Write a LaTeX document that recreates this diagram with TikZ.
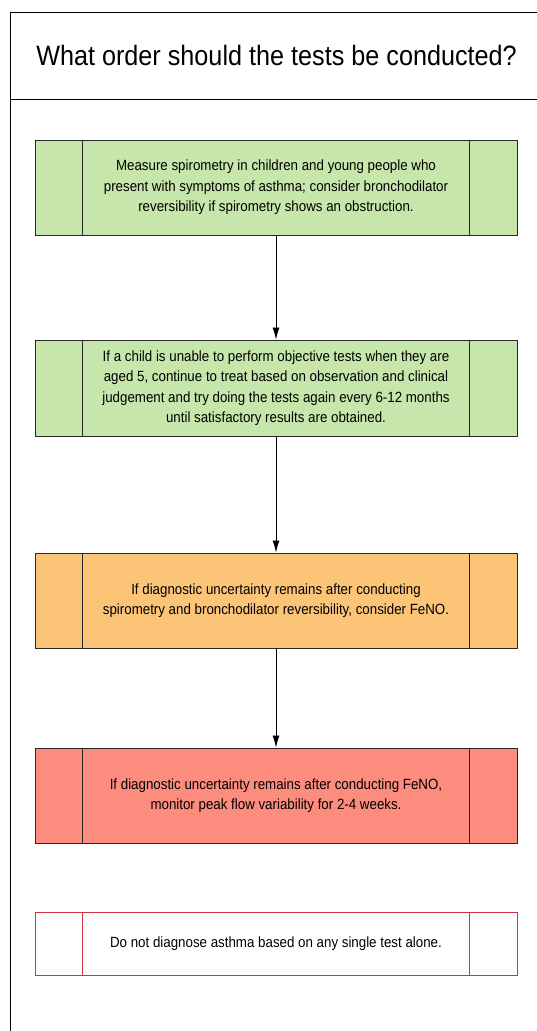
\documentclass[tikz,border=0pt]{standalone}
\usepackage{fontspec}
\setmainfont{Liberation Sans}[FakeStretch=0.9]
\definecolor{stepgreen}{RGB}{199,230,171}
\definecolor{steporange}{RGB}{252,196,119}
\definecolor{stepred}{RGB}{252,140,126}
\definecolor{noteline}{RGB}{208,50,64}
\definecolor{boxline}{RGB}{40,40,40}
\tikzset{
  stepbox/.style={draw=boxline, line width=0.9pt, rectangle, minimum width=482pt,
    minimum height=95pt, align=center, inner sep=0pt,
    font=\fontsize{14.8}{20.5}\selectfont},
  notebox/.style={stepbox, draw=noteline, fill=white, minimum height=63pt},
  flow/.style={-{Latex[length=12pt,width=7pt]}, line width=0.8pt, black}
}
\usetikzlibrary{arrows.meta}
\begin{document}
\begin{tikzpicture}[x=1pt,y=-1pt]
  \useasboundingbox (0,0) rectangle (536,1031);
  % frame and header
  \draw[line width=0.9pt] (560,12) -- (10,12) -- (10,1050);
  \draw[line width=0.9pt] (10,99) -- (560,99);
  \node (title) at (276.5,55) {\fontsize{28}{32}\selectfont What order should the tests be conducted?};
  % steps
  \node[stepbox, fill=stepgreen] (spiro) at (276,187.5)
    {Measure spirometry in children and young people who\\
     present with symptoms of asthma; consider bronchodilator\\
     reversibility if spirometry shows an obstruction.};
  \node[stepbox, fill=stepgreen, minimum height=96pt] (child) at (276,388)
    {If a child is unable to perform objective tests when they are\\
     aged 5, continue to treat based on observation and clinical\\
     judgement and try doing the tests again every 6-12 months\\
     until satisfactory results are obtained.};
  \node[stepbox, fill=steporange] (feno) at (276,600.5)
    {If diagnostic uncertainty remains after conducting\\
     spirometry and bronchodilator reversibility, consider FeNO.};
  \node[stepbox, fill=stepred] (peak) at (276,795.5)
    {If diagnostic uncertainty remains after conducting FeNO,\\
     monitor peak flow variability for 2-4 weeks.};
  \node[notebox] (single) at (276,943.5)
    {Do not diagnose asthma based on any single test alone.};
  % side panels
  \foreach \b/\c in {spiro/boxline, child/boxline, feno/boxline, peak/boxline, single/noteline}
  {
    \draw[\c, line width=0.9pt] ([xshift=48pt]\b.north west) -- ([xshift=48pt]\b.south west);
    \draw[\c, line width=0.9pt] ([xshift=-48pt]\b.north east) -- ([xshift=-48pt]\b.south east);
  }
  % arrows
  \draw[flow] (spiro) -- (child);
  \draw[flow] (child) -- (feno);
  \draw[flow] (feno) -- (peak);
\end{tikzpicture}
\end{document}
